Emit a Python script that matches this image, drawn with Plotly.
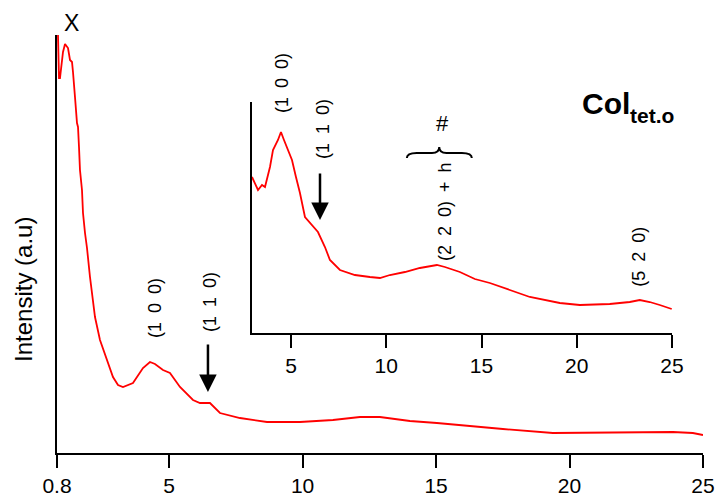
import plotly.graph_objects as go

# Main pattern (2theta in degrees, intensity a.u.)
main_x = [0.837, 0.875, 0.912, 0.987, 1.025, 1.100, 1.175, 1.212, 1.287, 1.362, 1.399, 1.437,
          1.474, 1.549, 1.587, 1.624, 1.661, 1.736, 1.774, 1.849, 1.924, 2.036, 2.223, 2.410,
          2.673, 2.897, 3.085, 3.272, 3.646, 4.021, 4.283, 4.470, 4.770, 5.032, 5.407, 5.894,
          6.156, 6.530, 6.905, 7.654, 8.665, 9.901, 11.137, 12.148, 12.897, 14.021, 15.032,
          16.530, 17.504, 19.376, 22.148, 23.871, 24.62, 25.0]
main_y = [418, 375, 375, 391, 401, 409, 407, 405, 393, 391, 381, 363,
          356, 330, 326, 306, 283, 263, 240, 220, 205, 176, 136, 113,
          93, 76, 68, 66, 70, 85, 91, 89, 83, 80, 66, 53,
          50, 50, 40, 35, 31, 31, 33, 36, 36, 32, 30,
          26, 24, 20, 21, 21, 20, 18]

# Inset (enlarged region)
ins_x = [2.95, 3.265, 3.475, 3.632, 3.894, 4.052, 4.314, 4.471, 4.629, 4.839, 5.049, 5.258,
         5.468, 5.731, 5.993, 6.413, 6.780, 7.042, 7.567, 8.354, 9.141, 9.666, 10.19, 10.977,
         11.764, 12.656, 13.076, 13.863, 14.65, 15.437, 16.486, 17.536, 19.11, 20.159, 21.733,
         22.783, 23.308, 23.833, 24.357, 24.986]
ins_y = [156, 143, 148, 146, 166, 183, 193, 201, 193, 183, 173, 156,
         140, 116, 110, 101, 86, 73, 63, 58, 56, 55, 58, 61,
         65, 68, 66, 61, 54, 50, 43, 36, 30, 28, 29,
         31, 33, 31, 28, 24]

main_ticks = [0.8, 5, 10, 15, 20, 25]
main_ticktext = ["0.8", "5", "10", "15", "20", "25"]
ins_ticks = [5, 10, 15, 20, 25]
ins_ticktext = ["5", "10", "15", "20", "25"]

FONT = "Liberation Sans, Arial, sans-serif"
E = "\u2002"

fig = go.Figure()
fig.add_trace(go.Scatter(x=main_x, y=main_y, mode="lines", line=dict(color="#ff0000", width=1.8),
                         xaxis="x", yaxis="y", showlegend=False, hoverinfo="skip"))
fig.add_trace(go.Scatter(x=ins_x, y=ins_y, mode="lines", line=dict(color="#ff0000", width=1.8),
                         xaxis="x2", yaxis="y2", showlegend=False, hoverinfo="skip"))

W, H = 718, 497
fig.update_layout(
    width=W, height=H, margin=dict(l=0, r=0, t=0, b=0, autoexpand=False),
    paper_bgcolor="white", plot_bgcolor="rgba(0,0,0,0)",
    font=dict(family=FONT, color="black"),
    xaxis=dict(domain=[57 / W, 703 / W], range=[0.8, 25], tickvals=main_ticks, ticktext=main_ticktext,
               showline=True, linecolor="black", linewidth=2, ticks="outside", ticklen=13, tickwidth=2,
               tickcolor="black", showgrid=False, zeroline=False, automargin=False,
               tickfont=dict(size=21, family=FONT)),
    yaxis=dict(domain=[(H - 453) / H, (H - 35) / H], range=[0, 418], showline=True, linecolor="black",
               linewidth=2, showticklabels=False, ticks="", showgrid=False, zeroline=False,
               automargin=False),
    xaxis2=dict(domain=[252 / W, 672 / W], range=[2.95, 25], anchor="y2", tickvals=ins_ticks,
                ticktext=ins_ticktext, showline=True, linecolor="black", linewidth=1.8, ticks="outside",
                ticklen=13, tickwidth=1.8, tickcolor="black", showgrid=False, zeroline=False,
                automargin=False, tickfont=dict(size=21, family=FONT)),
    yaxis2=dict(domain=[(H - 333) / H, (H - 102) / H], range=[0, 231], anchor="x2", showline=True,
                linecolor="black", linewidth=1.8, showticklabels=False, ticks="", showgrid=False,
                zeroline=False, automargin=False),
)

ann = []
def lab(text, x, y, xref, yref, size=18, angle=-90, xanchor="center", **kw):
    ann.append(dict(text=text, x=x, y=y, xref=xref, yref=yref, showarrow=False, textangle=angle,
                    font=dict(size=size, family=FONT, color="black"), xanchor=xanchor,
                    yanchor="middle", **kw))

lab("Intensity (a.u)", 23 / W, (H - 290) / H, "paper", "paper", size=24)
lab("X", 71 / W, (H - 23) / H, "paper", "paper", size=23, angle=0)
lab("(1" + E + "0" + E + "0)", 4.47, 145, "x", "y")
lab("(1" + E + "1" + E + "0)", 6.53, 151, "x", "y")
# inset (1 0 0) sits above the inset's top, so place it in paper coordinates
lab("(1" + E + "0" + E + "0)", 282 / W, (H - 83) / H, "paper", "paper")
lab("(1" + E + "1" + E + "0)", 6.675, 204, "x2", "y2")
lab("(2" + E + "2" + E + "0)" + E + "+" + E + "h", 13.08, 122, "x2", "y2")
lab("#", 12.97, 210, "x2", "y2", size=22, angle=0)
lab("(5" + E + "2" + E + "0)", 23.25, 76, "x2", "y2")
# phase label: Col with subscript tet.o
lab("<b>Col</b>", 580 / W, (H - 103) / H, "paper", "paper", size=30, angle=0, xanchor="left")
lab("<b>tet.o</b>", 628 / W, (H - 116) / H, "paper", "paper", size=21, angle=0, xanchor="left")

for (x, y, xr, yr, ay) in [(6.455, 61, "x", "y", -49), (6.52, 113, "x2", "y2", -48)]:
    ann.append(dict(text="", x=x, y=y, xref=xr, yref=yr, showarrow=True, ax=0, ay=ay, axref="pixel",
                    ayref="pixel", arrowhead=2, arrowsize=1.4, arrowwidth=2.5, arrowcolor="black"))
fig.update_layout(annotations=ann)

# horizontal curly brace over the (2 2 0)+h region
fig.add_shape(type="path", xref="x2", yref="y2",
              path="M 11.08,175 Q 11.08,180 11.6,180 L 12.4,180 Q 12.78,180 12.78,186 "
                   "Q 12.78,180 13.16,180 L 13.97,180 Q 14.49,180 14.49,175",
              line=dict(color="black", width=2))

fig.write_html("out.html")
